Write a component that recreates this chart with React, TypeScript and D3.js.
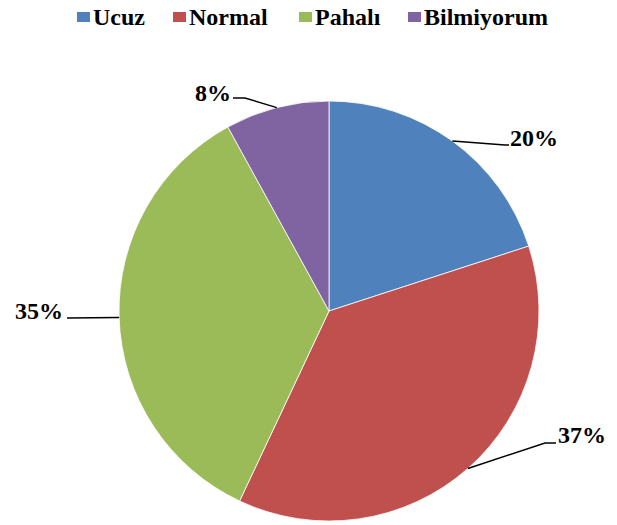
import React from 'react'
import * as d3 from 'd3'

const categories = ['Ucuz', 'Normal', 'Pahalı', 'Bilmiyorum']
const values = [20, 37, 35, 8]
const colors = ['#4F81BD', '#C0504D', '#9BBB59', '#8064A2']

const width = 617
const height = 525
const cx = 329
const cy = 311
const radius = 210

// label layout: elbow point of the leader line, then text anchor position
const labelLayout = [
    { elbow: [505, 145], end: [509, 145], text: [510, 146], anchor: 'start' },
    { elbow: [545, 443], end: [556, 443], text: [558, 443], anchor: 'start' },
    { elbow: [67, 318], end: [67, 318], text: [63, 319], anchor: 'end' },
    { elbow: [245, 98], end: [233, 98], text: [231, 101], anchor: 'end' },
]

const legendX = [77, 173, 299, 408]

const textStyle = { font: 'bold 24px "Times New Roman", "Liberation Serif", serif' }

function App() {
    const pie = d3.pie<number>().sort(null).value(d => d)
    const arcs = pie(values)
    const arc = d3.arc<d3.PieArcDatum<number>>().innerRadius(0).outerRadius(radius)
    const total = d3.sum(values)

    return (
        <svg width={width} height={height} style={{ position: 'absolute', left: 0, top: 0 }}>
            <rect width={width} height={height} fill="white" />
            {categories.map((c, i) => (
                <g key={c}>
                    <rect x={legendX[i]} y={12} width={13} height={10} fill={colors[i]} />
                    <text x={legendX[i] + 16} y={25} style={textStyle}>
                        {c}
                    </text>
                </g>
            ))}
            <g transform={`translate(${cx}, ${cy})`}>
                {arcs.map((a, i) => (
                    <path key={i} d={arc(a) || ''} fill={colors[i]} stroke="white" strokeWidth={0.8} />
                ))}
            </g>
            {arcs.map((a, i) => {
                const mid = (a.startAngle + a.endAngle) / 2
                const px = cx + radius * Math.sin(mid)
                const py = cy - radius * Math.cos(mid)
                const l = labelLayout[i]
                const line = d3.line()([[px, py], l.elbow as [number, number], l.end as [number, number]])
                return (
                    <g key={i}>
                        <path d={line || ''} fill="none" stroke="black" strokeWidth={1.5} />
                        <text x={l.text[0]} y={l.text[1]} textAnchor={l.anchor} style={textStyle}>
                            {Math.round((values[i] / total) * 100)}%
                        </text>
                    </g>
                )
            })}
        </svg>
    )
}

export default App
